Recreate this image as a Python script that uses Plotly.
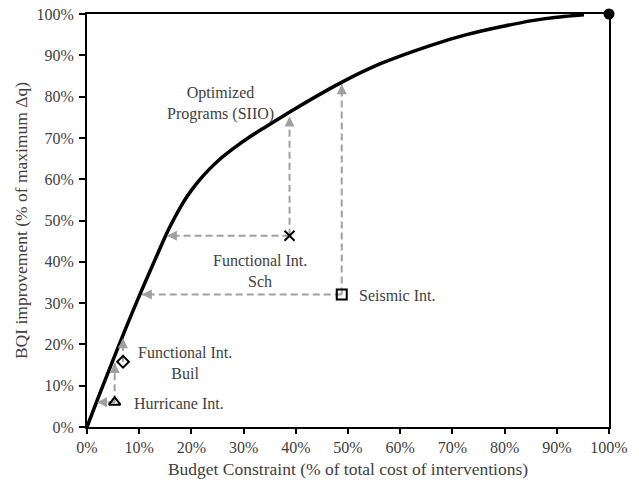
import plotly.graph_objects as go

# Optimized program curve (SIIO)
curve_x = [0, 2.2, 4.7, 7.3, 10.2, 13.1, 15.3, 16.5, 17.8, 19.0, 20.0, 21.7, 23.5, 25.5, 28.0, 31.0, 34.4,
           40.2, 48.4, 56.1, 65.6, 72.7, 80.0, 85.3, 90.0, 95.2]
curve_y = [0, 7.3, 15.3, 23.5, 32.3, 40.7, 47.0, 50.0, 53.0, 55.5, 57.3, 60.0, 62.5, 64.9, 67.4, 70.1, 72.8,
           77.3, 83.2, 87.9, 92.3, 95.0, 97.1, 98.4, 99.2, 99.8]

# Interventions (x = budget %, y = BQI improvement %)
names = ["Hurricane Int.", "Functional Int. Buil", "Functional Int. Sch", "Seismic Int."]
pt_x = [5.3, 6.9, 38.8, 48.8]
pt_y = [6.0, 15.8, 46.3, 32.1]
symbols = ["triangle-up-open", "diamond-open", "x-thin-open", "square-open"]
# Where the dashed arrows hit the curve
left_tip_x = [1.9, None, 15.3, 10.5]
up_tip_y = [15.5, 21.5, 75.2, 83.0]

end_x, end_y = [100], [100]

x_ticks = list(range(0, 101, 10))
y_ticks = list(range(0, 101, 10))

labels = [
    ("Optimized<br>Programs (SIIO)", 25.5, 78.4, "center"),
    ("Functional Int.<br>Sch", 33.1, 37.7, "center"),
    ("Seismic Int.", 51.8, 31.9, "left"),
    ("Functional Int.<br>Buil", 18.8, 15.5, "center"),
    ("Hurricane Int.", 8.6, 5.8, "left"),
]

FONT = "Liberation Serif, Times New Roman, serif"
GRAY = "#a0a0a0"
TXT = "#404040"

fig = go.Figure()

# dashed guide lines
for i in range(len(pt_x)):
    if left_tip_x[i] is not None:
        fig.add_trace(go.Scatter(x=[pt_x[i], left_tip_x[i]], y=[pt_y[i], pt_y[i]], mode="lines",
                                 line=dict(color=GRAY, width=2, dash="7px,4px"), showlegend=False,
                                 hoverinfo="skip"))
    fig.add_trace(go.Scatter(x=[pt_x[i], pt_x[i]], y=[pt_y[i], up_tip_y[i]], mode="lines",
                             line=dict(color=GRAY, width=2, dash="7px,4px"), showlegend=False,
                             hoverinfo="skip"))

# curve
fig.add_trace(go.Scatter(x=curve_x, y=curve_y, mode="lines",
                         line=dict(color="black", width=3.5, shape="spline", smoothing=1.0),
                         showlegend=False))
fig.add_trace(go.Scatter(x=end_x, y=end_y, mode="markers", marker=dict(color="black", size=11),
                         cliponaxis=False, showlegend=False))

# intervention markers
for i in range(len(pt_x)):
    fig.add_trace(go.Scatter(x=[pt_x[i]], y=[pt_y[i]], mode="markers", name=names[i],
                             marker=dict(symbol=symbols[i], size=10 if i != 1 else 9, color="black",
                                         line=dict(color="black", width=2)),
                             showlegend=False))

# arrowheads
for i in range(len(pt_x)):
    if left_tip_x[i] is not None:
        fig.add_annotation(x=left_tip_x[i], y=pt_y[i], xref="x", yref="y", ax=10, ay=0, text="",
                           showarrow=True, arrowhead=2, arrowsize=1, arrowwidth=2, arrowcolor=GRAY)
    fig.add_annotation(x=pt_x[i], y=up_tip_y[i], xref="x", yref="y", ax=0, ay=10, text="",
                       showarrow=True, arrowhead=2, arrowsize=1, arrowwidth=2, arrowcolor=GRAY)

for text, lx, ly, anchor in labels:
    fig.add_annotation(x=lx, y=ly, xref="x", yref="y", text=text, showarrow=False,
                       xanchor=anchor, yanchor="middle", align="center",
                       font=dict(family=FONT, size=16, color=TXT))

fig.update_layout(
    width=639, height=483,
    margin=dict(l=87, r=30, t=13.5, b=56.3, autoexpand=False),
    paper_bgcolor="white", plot_bgcolor="white",
    font=dict(family=FONT, size=16, color=TXT),
    hovermode=False,
)
fig.update_xaxes(range=[0, 100], tickvals=x_ticks, ticktext=[f"{v}%" for v in x_ticks],
                 showgrid=False, zeroline=False, showline=True, linecolor="black", linewidth=2,
                 mirror=True, ticks="outside", ticklen=5, tickwidth=2, tickcolor="black",
                 automargin=False,
                 title=dict(text="Budget Constraint (% of total cost of interventions)",
                            font=dict(family=FONT, size=17.5, color=TXT), standoff=8))
fig.update_yaxes(range=[0, 100], tickvals=y_ticks, ticktext=[f"{v}%" for v in y_ticks],
                 showgrid=False, zeroline=False, showline=True, linecolor="black", linewidth=2,
                 mirror=True, ticks="outside", ticklen=6, tickwidth=2, tickcolor="black",
                 ticklabelstandoff=2, automargin=False,
                 title=dict(text="BQI improvement (% of maximum Δq)",
                            font=dict(family=FONT, size=17.5, color=TXT), standoff=4))

fig.write_html("out.html", config={"displayModeBar": False},
               post_script="document.body.style.margin='0';")
